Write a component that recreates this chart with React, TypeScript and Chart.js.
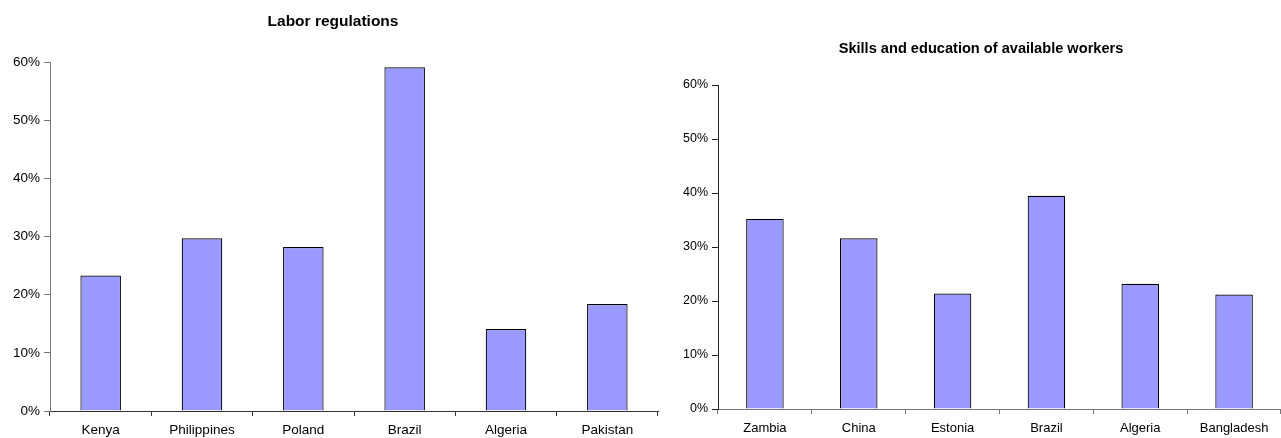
import React, { useEffect, useRef } from "react";
import { Chart, registerables } from "chart.js";

Chart.register(...registerables);

// Share of firms citing each constraint (percent)
const laborCountries = ["Kenya", "Philippines", "Poland", "Brazil", "Algeria", "Pakistan"];
const laborValues = [23.3, 29.7, 28.2, 59.1, 14.1, 18.4];

const skillsCountries = ["Zambia", "China", "Estonia", "Brazil", "Algeria", "Bangladesh"];
const skillsValues = [35.2, 31.6, 21.4, 39.5, 23.2, 21.2];

const laborTitle = "Labor regulations";
const skillsTitle = "Skills and education of available workers";

const yMin = 0;
const yMax = 60;
const yStep = 10;

const FONT = "'Liberation Sans', Arial, Helvetica, sans-serif";
const BAR_FILL = "#9999FF";

// Draws a bold heading at a fixed spot on the canvas
const panelTitle = {
  id: "panelTitle",
  afterDraw(chart: any, _args: any, opts: any) {
    const { ctx } = chart;
    ctx.save();
    ctx.font = `bold ${opts.size}px ${FONT}`;
    ctx.fillStyle = "#000";
    ctx.textAlign = "center";
    ctx.textBaseline = "alphabetic";
    ctx.fillText(opts.text, opts.x, opts.y);
    ctx.restore();
  },
};

type PanelProps = {
  labels: string[];
  values: number[];
  title: string;
  width: number;
  left: number;
  layout: {
    top: number;
    right: number;
    yWidth: number;
    xHeight: number;
    titleX: number;
    titleY: number;
    titleSize: number;
    yFont: number;
    xFont: number;
    yColor: string;
    xColor: string;
    xPad: number;
  };
};

function Panel({ labels, values, title, width, left, layout }: PanelProps) {
  const ref = useRef<HTMLCanvasElement | null>(null);

  useEffect(() => {
    if (!ref.current) return;
    const chart = new Chart(ref.current, {
      type: "bar",
      data: {
        labels,
        datasets: [
          {
            data: values,
            backgroundColor: BAR_FILL,
            borderColor: "#000",
            borderWidth: 1.2,
            barPercentage: 0.4,
            categoryPercentage: 1,
          },
        ],
      },
      plugins: [panelTitle],
      options: {
        responsive: false,
        animation: false,
        devicePixelRatio: 1,
        layout: { padding: { top: layout.top, right: layout.right, left: 0, bottom: 0 } },
        plugins: {
          legend: { display: false },
          tooltip: { enabled: false },
          title: { display: false },
          panelTitle: {
            text: title,
            x: layout.titleX,
            y: layout.titleY,
            size: layout.titleSize,
          },
        } as any,
        scales: {
          x: {
            offset: true,
            grid: {
              offset: true,
              drawOnChartArea: false,
              drawTicks: true,
              tickLength: 5,
              color: layout.xColor,
            },
            border: { display: true, color: layout.xColor, width: 1 },
            ticks: {
              color: "#000",
              padding: layout.xPad,
              maxRotation: 0,
              autoSkip: false,
              font: { family: FONT, size: layout.xFont },
            },
            afterFit: (s: any) => {
              s.height = layout.xHeight;
            },
          },
          y: {
            min: yMin,
            max: yMax,
            grid: {
              drawOnChartArea: false,
              drawTicks: true,
              tickLength: 6,
              color: layout.yColor,
            },
            border: { display: true, color: layout.yColor, width: 1 },
            ticks: {
              stepSize: yStep,
              color: "#000",
              padding: 4,
              font: { family: FONT, size: layout.yFont },
              callback: (v: any) => `${v}%`,
            },
            afterFit: (s: any) => {
              s.width = layout.yWidth;
            },
          },
        },
      },
    });
    return () => chart.destroy();
  }, []);

  return (
    <canvas
      ref={ref}
      width={width}
      height={438}
      style={{ position: "absolute", left, top: 0, width, height: 438 }}
    />
  );
}

export default function App() {
  return (
    <div
      style={{
        position: "absolute",
        left: 0,
        top: 0,
        width: 1281,
        height: 438,
        background: "#fff",
        overflow: "hidden",
      }}
    >
      <Panel
        labels={laborCountries}
        values={laborValues}
        title={laborTitle}
        width={660}
        left={0}
        layout={{
          top: 62,
          right: 2,
          yWidth: 50,
          xHeight: 27,
          titleX: 333,
          titleY: 26,
          titleSize: 15.5,
          yFont: 13.5,
          xFont: 13.5,
          yColor: "#777",
          xColor: "#333",
          xPad: 6,
        }}
      />
      <Panel
        labels={skillsCountries}
        values={skillsValues}
        title={skillsTitle}
        width={621}
        left={660}
        layout={{
          top: 85,
          right: 0,
          yWidth: 58,
          xHeight: 29,
          titleX: 321,
          titleY: 53,
          titleSize: 14.6,
          yFont: 12.5,
          xFont: 13,
          yColor: "#222",
          xColor: "#777",
          xPad: 7,
        }}
      />
    </div>
  );
}
